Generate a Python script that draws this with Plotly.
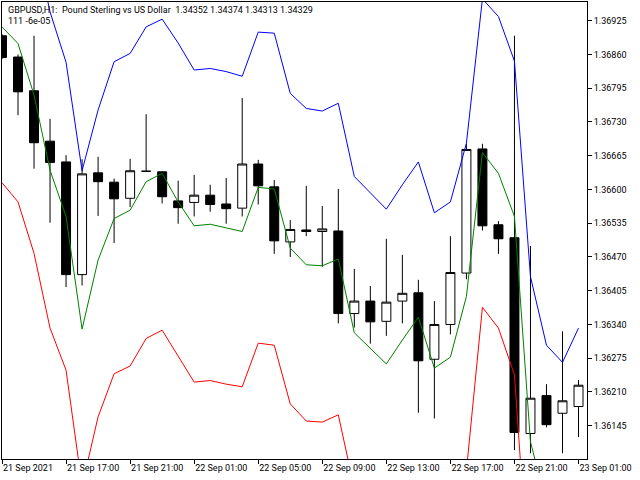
import plotly.graph_objects as go

# ---- data ----
times = [
    "2021-09-21 13:00", "2021-09-21 14:00", "2021-09-21 15:00", "2021-09-21 16:00",
    "2021-09-21 17:00", "2021-09-21 18:00", "2021-09-21 19:00", "2021-09-21 20:00",
    "2021-09-21 21:00", "2021-09-21 22:00", "2021-09-21 23:00", "2021-09-22 00:00",
    "2021-09-22 01:00", "2021-09-22 02:00", "2021-09-22 03:00", "2021-09-22 04:00",
    "2021-09-22 05:00", "2021-09-22 06:00", "2021-09-22 07:00", "2021-09-22 08:00",
    "2021-09-22 09:00", "2021-09-22 10:00", "2021-09-22 11:00", "2021-09-22 12:00",
    "2021-09-22 13:00", "2021-09-22 14:00", "2021-09-22 15:00", "2021-09-22 16:00",
    "2021-09-22 17:00", "2021-09-22 18:00", "2021-09-22 19:00", "2021-09-22 20:00",
    "2021-09-22 21:00", "2021-09-22 22:00", "2021-09-22 23:00", "2021-09-23 00:00",
    "2021-09-23 01:00",
]

opens = [1.36896, 1.36855, 1.36790, 1.36693, 1.36653, 1.36436, 1.36632, 1.36614,
         1.36583, 1.36635, 1.36634, 1.36578, 1.36575, 1.36589, 1.36572, 1.36564,
         1.36649, 1.36605, 1.36499, 1.36522, 1.36519, 1.36520, 1.36361, 1.36385,
         1.36346, 1.36385, 1.36401, 1.36273, 1.36340, 1.36439, 1.36678, 1.36532,
         1.36507, 1.36130, 1.36203, 1.36169, 1.36182]
highs = [1.36899, 1.36860, 1.36896, 1.36736, 1.36666, 1.36658, 1.36663, 1.36621,
         1.36659, 1.36745, 1.36634, 1.36617, 1.36628, 1.36609, 1.36622, 1.36776,
         1.36657, 1.36618, 1.36541, 1.36607, 1.36568, 1.36601, 1.36447, 1.36414,
         1.36505, 1.36474, 1.36426, 1.36385, 1.36510, 1.36688, 1.36688, 1.36539,
         1.36896, 1.36491, 1.36225, 1.36327, 1.36233]
lows = [1.36851, 1.36743, 1.36640, 1.36536, 1.36412, 1.36415, 1.36549, 1.36497,
        1.36566, 1.36634, 1.36573, 1.36534, 1.36548, 1.36557, 1.36534, 1.36548,
        1.36571, 1.36476, 1.36470, 1.36510, 1.36451, 1.36342, 1.36334, 1.36303,
        1.36318, 1.36342, 1.36170, 1.36159, 1.36321, 1.36427, 1.36521, 1.36476,
        1.36098, 1.36092, 1.36142, 1.36092, 1.36123]
closes = [1.36854, 1.36788, 1.36690, 1.36652, 1.36436, 1.36630, 1.36615, 1.36582,
          1.36636, 1.36635, 1.36586, 1.36565, 1.36589, 1.36571, 1.36563, 1.36649,
          1.36607, 1.36501, 1.36523, 1.36519, 1.36524, 1.36361, 1.36385, 1.36345,
          1.36383, 1.36400, 1.36270, 1.36340, 1.36440, 1.36677, 1.36530, 1.36505,
          1.36132, 1.36198, 1.36147, 1.36193, 1.36223]

middle_line = [1.36913, 1.36881, 1.36782, 1.36637, 1.36548, 1.36331, 1.36464, 1.36544,
               1.36560, 1.36615, 1.36631, 1.36576, 1.36530, 1.36533, 1.36526, 1.36519,
               1.36604, 1.36601, 1.36487, 1.36455, 1.36453, 1.36466, 1.36324, 1.36294,
               1.36264, 1.36310, 1.36354, 1.36256, 1.36277, 1.36394, 1.36671, 1.36631,
               1.36548, 1.36114, 1.35994, 1.35973, 1.35987]
upper_line = [1.37213, 1.37186, 1.37086, 1.36942, 1.36845, 1.36636, 1.36753, 1.36846,
              1.36862, 1.36913, 1.36928, 1.36882, 1.36830, 1.36833, 1.36827, 1.36818,
              1.36903, 1.36901, 1.36785, 1.36756, 1.36751, 1.36766, 1.36625, 1.36593,
              1.36562, 1.36609, 1.36653, 1.36555, 1.36576, 1.36689, 1.36967, 1.36933,
              1.36847, 1.36432, 1.36300, 1.36267, 1.36333]
lower_line = [1.36613, 1.36576, 1.36477, 1.36333, 1.36252, 1.36029, 1.36162, 1.36245,
              1.36260, 1.36313, 1.36329, 1.36278, 1.36229, 1.36232, 1.36225, 1.36220,
              1.36304, 1.36300, 1.36187, 1.36154, 1.36152, 1.36166, 1.36024, 1.35996,
              1.35965, 1.36012, 1.36054, 1.35956, 1.35977, 1.36058, 1.36373, 1.36333,
              1.36243, 1.35796, 1.35688, 1.35678, 1.35640]

tick_times = ["2021-09-21 13:00", "2021-09-21 17:00", "2021-09-21 21:00",
              "2021-09-22 01:00", "2021-09-22 05:00", "2021-09-22 09:00",
              "2021-09-22 13:00", "2021-09-22 17:00", "2021-09-22 21:00",
              "2021-09-23 01:00"]
tick_labels = ["21 Sep 2021", "21 Sep 17:00", "21 Sep 21:00", "22 Sep 01:00",
               "22 Sep 05:00", "22 Sep 09:00", "22 Sep 13:00", "22 Sep 17:00",
               "22 Sep 21:00", "23 Sep 01:00"]
price_ticks = [1.36145, 1.36210, 1.36275, 1.36340, 1.36405, 1.36470, 1.36535,
               1.36600, 1.36665, 1.36730, 1.36795, 1.36860, 1.36925]

title_line = "GBPUSD,H1:  Pound Sterling vs US Dollar  1.34352 1.34374 1.34313 1.34329"
sub_line = "111 -6e-05"

FONT = "Roboto"

# bar slots on the time axis (one slot per hourly bar, no gaps)
bar_pos = list(range(len(times)))
tick_pos = [times.index(t) for t in tick_times]

fig = go.Figure()
fig.add_trace(go.Candlestick(
    x=bar_pos, open=opens, high=highs, low=lows, close=closes,
    increasing=dict(line=dict(color="black", width=1), fillcolor="white"),
    decreasing=dict(line=dict(color="black", width=1), fillcolor="black"),
    whiskerwidth=0, hoverinfo="skip", showlegend=False,
))
fig.add_trace(go.Scatter(x=bar_pos, y=upper_line, mode="lines",
                         line=dict(color="#0000FF", width=1), hoverinfo="skip"))
fig.add_trace(go.Scatter(x=bar_pos, y=lower_line, mode="lines",
                         line=dict(color="#FF0000", width=1), hoverinfo="skip"))
fig.add_trace(go.Scatter(x=bar_pos, y=middle_line, mode="lines",
                         line=dict(color="#008000", width=1), hoverinfo="skip"))

fig.update_layout(
    width=640, height=480,
    margin=dict(l=2, r=53, t=2, b=21, pad=0),
    paper_bgcolor="white", plot_bgcolor="white",
    showlegend=False,
    boxgap=0.2,
    font=dict(family=FONT, size=9, color="black"),
    xaxis=dict(
        type="linear", range=[0.0, 36.53], autorange=False,
        rangeslider=dict(visible=False),
        showgrid=False, zeroline=False,
        showline=True, linecolor="black", linewidth=1, mirror=True,
        ticks="outside", ticklen=4, tickcolor="black", tickwidth=1,
        tickvals=tick_pos, ticktext=tick_labels,
        ticklabelposition="outside right",
        tickfont=dict(family=FONT, size=9, color="black"),
    ),
    yaxis=dict(
        side="right", range=[1.360809, 1.369610], autorange=False,
        showgrid=False, zeroline=False,
        showline=True, linecolor="black", linewidth=1, mirror=True,
        ticks="outside", ticklen=4, tickcolor="black", tickwidth=1,
        tickvals=price_ticks, tickformat=".5f",
        tickfont=dict(family=FONT, size=9, color="black"),
    ),
    annotations=[
        dict(text=title_line, xref="paper", yref="paper", x=0, y=1,
             xanchor="left", yanchor="top", xshift=4, yshift=-1,
             showarrow=False, font=dict(family=FONT, size=9, color="black")),
        dict(text=sub_line, xref="paper", yref="paper", x=0, y=1,
             xanchor="left", yanchor="top", xshift=4, yshift=-12,
             showarrow=False, font=dict(family=FONT, size=9, color="black")),
    ],
)

fig.write_html(
    "out.html",
    config={"displayModeBar": False},
    post_script="document.body.style.margin='0px';document.body.style.overflow='hidden';",
)
